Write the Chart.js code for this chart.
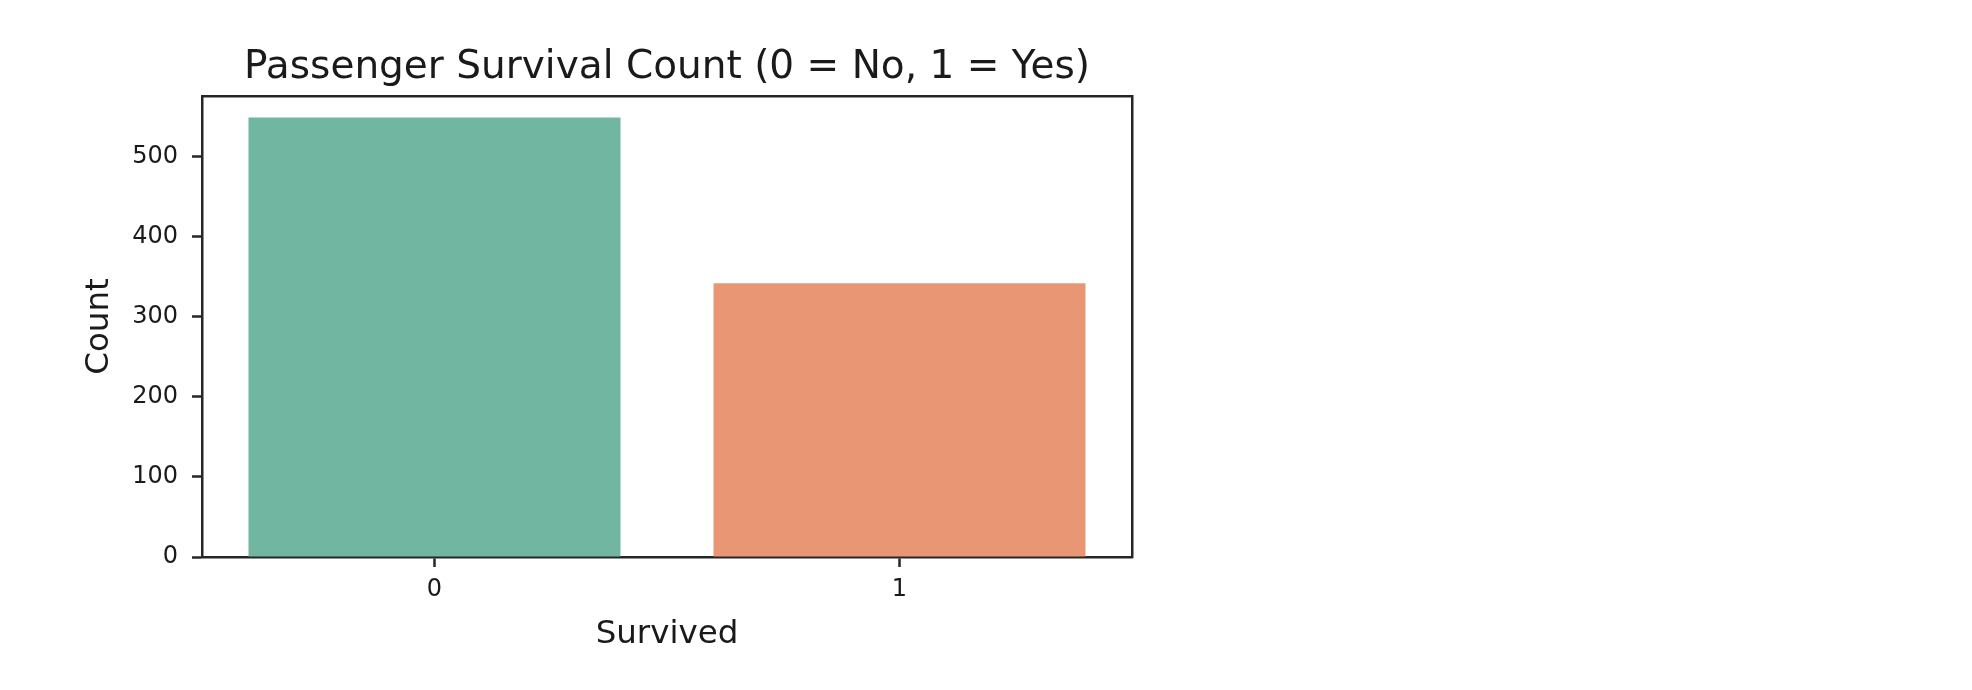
<!DOCTYPE html>
<html>
<head>
<meta charset="utf-8">
<script src="https://cdn.jsdelivr.net/npm/chart.js@4"></script>
<style>
  html, body { margin: 0; padding: 0; background: #fff; }
  #wrap { width: 1972px; height: 690px; position: relative; }
</style>
</head>
<body>
<div id="wrap"><canvas id="c" width="1972" height="690"></canvas></div>
<script>
const categories = ["0", "1"];
const counts = [549, 342];
const barColors = ["#71b6a1", "#e99675"];
const yTicks = [0, 100, 200, 300, 400, 500];
const yMax = 576;

const FONT = "'DejaVu Sans', sans-serif";
const INK = "#1a1a1a";
const FRAME = "#262626";

new Chart(document.getElementById('c'), {
  type: 'bar',
  data: {
    labels: categories,
    datasets: [{
      data: counts,
      backgroundColor: barColors,
      borderWidth: 0,
      barPercentage: 0.8,
      categoryPercentage: 1.0
    }]
  },
  options: {
    responsive: false,
    animation: false,
    devicePixelRatio: 1,
    layout: { padding: { left: 80, right: 840, top: 0, bottom: 36 } },
    plugins: {
      legend: { display: false },
      tooltip: { enabled: false },
      title: { display: false }
    },
    scales: {
      x: {
        type: 'category',
        offset: true,
        grid: { display: true, drawOnChartArea: false, drawTicks: true, tickLength: 10, tickWidth: 2.5, color: FRAME, offset: false },
        border: { display: true, color: FRAME, width: 2.5 },
        ticks: { color: INK, font: { family: FONT, size: 24 }, padding: 8, maxRotation: 0 },
        title: { display: true, text: 'Survived', color: INK, font: { family: FONT, size: 32.5, lineHeight: 1.2 }, padding: { top: 0, bottom: 0 } },
        afterFit: (s) => { s.height = 97; }
      },
      x2: {
        position: 'top',
        display: true,
        grid: { display: false, drawTicks: false },
        border: { display: true, color: FRAME, width: 2.5 },
        ticks: { display: false },
        title: {
          display: true,
          text: 'Passenger Survival Count (0 = No, 1 = Yes)',
          color: INK,
          font: { family: FONT, size: 39, lineHeight: 1.2 },
          padding: { top: 44.5, bottom: 0 }
        },
        afterFit: (s) => { s.height = 96; }
      },
      y: {
        min: 0,
        max: yMax,
        grid: { display: true, drawOnChartArea: false, drawTicks: true, tickLength: 10, tickWidth: 2.5, color: FRAME },
        border: { display: true, color: FRAME, width: 2.5 },
        ticks: { color: INK, font: { family: FONT, size: 24 }, padding: 14 },
        afterBuildTicks: (s) => { s.ticks = yTicks.map(v => ({ value: v })); },
        title: { display: true, text: 'Count', color: INK, font: { family: FONT, size: 32.5, lineHeight: 1.2 }, padding: { top: 0, bottom: 0 } },
        afterFit: (s) => { s.width = 122; }
      },
      y2: {
        position: 'right',
        display: true,
        min: 0,
        max: yMax,
        grid: { display: false, drawTicks: false },
        border: { display: true, color: FRAME, width: 2.5 },
        ticks: { display: false },
        afterFit: (s) => { s.width = 0; }
      }
    }
  }
});
</script>
</body>
</html>
